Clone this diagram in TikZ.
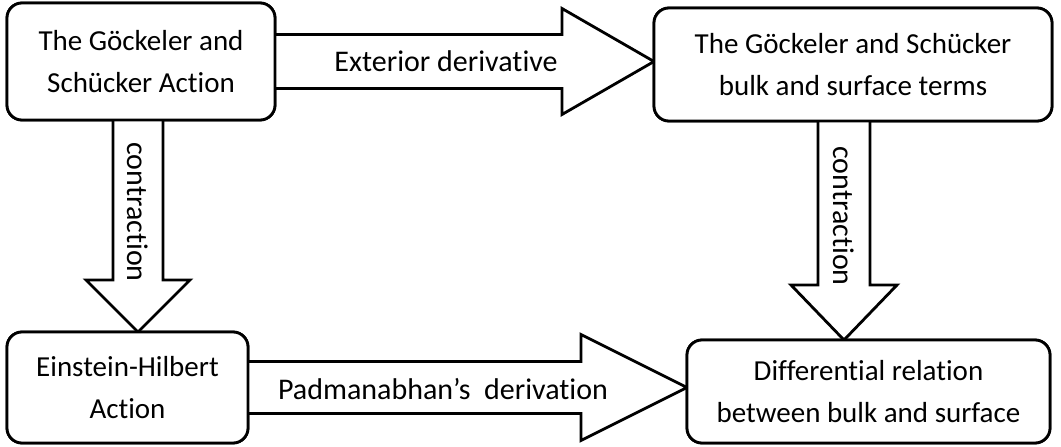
\documentclass[tikz,border=0pt]{standalone}
\usepackage{fontspec}
\setmainfont{Carlito}[Ligatures={NoCommon}]
\usetikzlibrary{calc}
\begin{document}
\begin{tikzpicture}[x=1pt,y=-1pt,
  box/.style={draw=black,line width=2.8pt,rounded corners=15pt,fill=white,
    align=center,inner sep=0pt,outer sep=0pt,
    font=\fontsize{29}{42}\selectfont},
  blk/.style={draw=black,line width=2.8pt,line join=miter,fill=white},
  lbl/.style={font=\fontsize{30}{36}\selectfont,inner sep=0pt}]
\useasboundingbox (0,0) rectangle (1061,447);
% boxes
\node[box,minimum width=268pt,minimum height=117pt] (A) at (141,61.5) {The Göckeler and\\Schücker Action};
\node[box,minimum width=398pt,minimum height=113pt] (B) at (853,64.5) {The Göckeler and Schücker\\bulk and surface terms};
\node[box,minimum width=241pt,minimum height=111pt] (C) at (127.5,387.5) {Einstein-Hilbert\\Action};
\node[box,minimum width=363pt,minimum height=103pt] (D) at (868.5,391.5) {Differential relation\\between bulk and surface};
% block arrows
\coordinate (abtip) at (A.east -| B.west);
\draw[blk] ($(A.east)+(0,-27)$) -- ($(abtip)+(-92,-27)$) -- ($(abtip)+(-92,-53)$) -- (abtip)
  -- ($(abtip)+(-92,53)$) -- ($(abtip)+(-92,27)$) -- ($(A.east)+(0,27)$);
\coordinate (cdtip) at (C.east -| D.west);
\draw[blk] ($(C.east)+(0,-26)$) -- ($(cdtip)+(-106,-26)$) -- ($(cdtip)+(-106,-53)$) -- (cdtip)
  -- ($(cdtip)+(-106,53)$) -- ($(cdtip)+(-106,26)$) -- ($(C.east)+(0,26)$);
\coordinate (acs) at ($(A.south)+(-3,0)$);
\coordinate (actip) at (acs |- C.north);
\draw[blk] ($(acs)+(-25,0)$) -- ($(actip)+(-25,-52)$) -- ($(actip)+(-52,-52)$) -- (actip)
  -- ($(actip)+(52,-52)$) -- ($(actip)+(25,-52)$) -- ($(acs)+(25,0)$);
\coordinate (bds) at ($(B.south)+(-9,0)$);
\coordinate (bdtip) at (bds |- D.north);
\draw[blk] ($(bds)+(-26,0)$) -- ($(bdtip)+(-26,-55)$) -- ($(bdtip)+(-53,-55)$) -- (bdtip)
  -- ($(bdtip)+(53,-55)$) -- ($(bdtip)+(26,-55)$) -- ($(bds)+(26,0)$);
% redraw boxes on top
\node[box,minimum width=268pt,minimum height=117pt] at (A) {The Göckeler and\\Schücker Action};
\node[box,minimum width=398pt,minimum height=113pt] at (B) {The Göckeler and Schücker\\bulk and surface terms};
\node[box,minimum width=241pt,minimum height=111pt] at (C) {Einstein-Hilbert\\Action};
\node[box,minimum width=363pt,minimum height=103pt] at (D) {Differential relation\\between bulk and surface};
% labels
\node[lbl] (l1) at ($(A.east)+(171,0)$) {Exterior derivative};
\node[lbl] (l2) at ($(C.east)+(195,2)$) {Padmanabhan’s\ \ derivation};
\node[lbl,rotate=-90] (l3) at ($(acs)+(0,92)$) {contraction};
\node[lbl,rotate=-90] (l4) at ($(bds)+(0,95)$) {contraction};
\end{tikzpicture}
\end{document}
